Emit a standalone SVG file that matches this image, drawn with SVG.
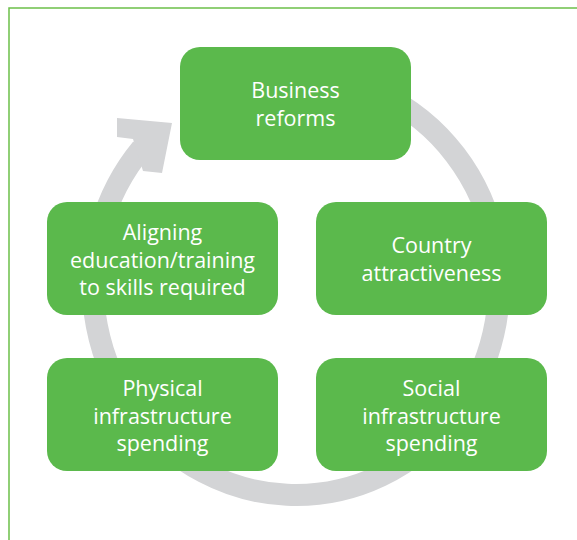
<svg xmlns="http://www.w3.org/2000/svg" width="577" height="540" viewBox="0 0 577 540">
<style>
.box{fill:#5BB94C}
.lbl{fill:#ffffff;font-family:"Open Sans","Noto Sans",sans-serif;font-size:21.5px;text-anchor:middle}
.ring{fill:none;stroke:#D3D4D6;stroke-width:22}
</style>
<rect width="577" height="540" fill="#ffffff"/>
<path d="M9 540 V8 H577" fill="none" stroke="#6CC04A" stroke-width="1.5"/>
<g id="connectors">
<path class="ring" d="M296 75 A203 210 0 1 1 141.7 148.5"/>
<polygon points="117,118 172,123 162,173 143,171 133,139 117,137" fill="#D3D4D6"/>
</g>
<g id="business">
<rect class="box" x="180" y="47" width="231" height="113" rx="20"/>
<text class="lbl" x="295.5" y="98">Business</text>
<text class="lbl" x="295.5" y="126">reforms</text>
</g>
<g id="aligning">
<rect class="box" x="47" y="202" width="231" height="113" rx="20"/>
<text class="lbl" x="162.5" y="240">Aligning</text>
<text class="lbl" x="162.5" y="268">education/training</text>
<text class="lbl" x="162.5" y="295">to skills required</text>
</g>
<g id="country">
<rect class="box" x="316" y="202" width="231" height="113" rx="20"/>
<text class="lbl" x="431.5" y="253">Country</text>
<text class="lbl" x="431.5" y="281">attractiveness</text>
</g>
<g id="physical">
<rect class="box" x="47" y="358" width="231" height="113" rx="20"/>
<text class="lbl" x="162.5" y="396">Physical</text>
<text class="lbl" x="162.5" y="424">infrastructure</text>
<text class="lbl" x="162.5" y="451">spending</text>
</g>
<g id="social">
<rect class="box" x="316" y="358" width="231" height="113" rx="20"/>
<text class="lbl" x="431.5" y="396">Social</text>
<text class="lbl" x="431.5" y="424">infrastructure</text>
<text class="lbl" x="431.5" y="451">spending</text>
</g>
</svg>
